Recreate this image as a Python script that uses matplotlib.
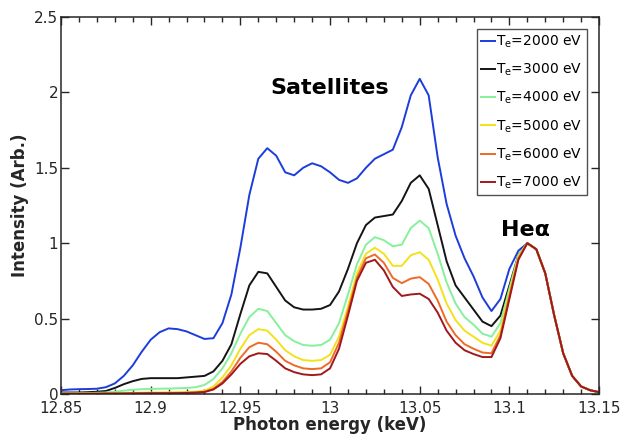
import numpy as np
import matplotlib.pyplot as plt
from matplotlib.ticker import MultipleLocator, FixedLocator

# photon energy grid (keV), read every 0.005 keV
energy = np.round(np.arange(12.85, 13.1501, 0.005), 3)

he_tail = [0.96, 0.80, 0.52, 0.27, 0.12, 0.05, 0.025, 0.012]

te2000 = [0.025, 0.03, 0.032, 0.033, 0.035, 0.045, 0.07, 0.12, 0.19, 0.28,
          0.36, 0.41, 0.435, 0.43, 0.415, 0.39, 0.365, 0.37, 0.47, 0.66,
          0.97, 1.32, 1.56, 1.63, 1.58, 1.47, 1.45, 1.50, 1.53, 1.51,
          1.47, 1.42, 1.40, 1.43, 1.50, 1.56, 1.59, 1.62, 1.77, 1.98,
          2.09, 1.98, 1.57, 1.26, 1.05, 0.90, 0.78, 0.64, 0.55, 0.63,
          0.83, 0.95, 1.00] + he_tail
te3000 = [0.01, 0.01, 0.01, 0.012, 0.015, 0.02, 0.04, 0.065, 0.085, 0.10,
          0.105, 0.105, 0.105, 0.105, 0.11, 0.115, 0.12, 0.15, 0.22, 0.33,
          0.53, 0.72, 0.81, 0.80, 0.71, 0.62, 0.575, 0.56, 0.56, 0.565,
          0.59, 0.68, 0.83, 1.00, 1.12, 1.17, 1.18, 1.19, 1.28, 1.40,
          1.45, 1.36, 1.12, 0.88, 0.72, 0.64, 0.56, 0.48, 0.45, 0.52,
          0.72, 0.92, 1.00] + he_tail
te4000 = [0.005, 0.005, 0.005, 0.006, 0.008, 0.01, 0.015, 0.022, 0.028, 0.032,
          0.034, 0.035, 0.036, 0.038, 0.04, 0.045, 0.06, 0.10, 0.17, 0.27,
          0.40, 0.51, 0.565, 0.55, 0.47, 0.39, 0.35, 0.325, 0.32, 0.325,
          0.36, 0.47, 0.66, 0.86, 0.99, 1.04, 1.02, 0.98, 0.99, 1.10,
          1.15, 1.10, 0.93, 0.74, 0.60, 0.51, 0.46, 0.40, 0.38, 0.47,
          0.70, 0.92, 1.00] + he_tail
te5000 = [0.003, 0.003, 0.003, 0.004, 0.004, 0.005, 0.006, 0.007, 0.008, 0.009,
          0.01, 0.01, 0.011, 0.012, 0.013, 0.016, 0.022, 0.05, 0.11, 0.19,
          0.30, 0.39, 0.43, 0.42, 0.36, 0.29, 0.25, 0.225, 0.22, 0.225,
          0.26, 0.38, 0.58, 0.80, 0.93, 0.97, 0.93, 0.85, 0.85, 0.92,
          0.94, 0.89, 0.76, 0.60, 0.49, 0.42, 0.38, 0.34, 0.32, 0.42,
          0.67, 0.91, 1.00] + he_tail
te6000 = [0.002, 0.002, 0.002, 0.003, 0.003, 0.003, 0.004, 0.004, 0.005, 0.005,
          0.006, 0.006, 0.007, 0.007, 0.008, 0.01, 0.015, 0.035, 0.08, 0.15,
          0.24, 0.31, 0.34, 0.33, 0.28, 0.22, 0.19, 0.17, 0.165, 0.17,
          0.21, 0.34, 0.55, 0.77, 0.90, 0.925, 0.87, 0.77, 0.735, 0.765,
          0.775, 0.73, 0.62, 0.48, 0.39, 0.33, 0.30, 0.275, 0.27, 0.39,
          0.65, 0.90, 1.00] + he_tail
te7000 = [0.002, 0.002, 0.002, 0.002, 0.002, 0.003, 0.003, 0.003, 0.004, 0.004,
          0.005, 0.005, 0.005, 0.006, 0.007, 0.009, 0.013, 0.03, 0.07, 0.13,
          0.20, 0.25, 0.27, 0.265, 0.22, 0.17, 0.145, 0.13, 0.125, 0.13,
          0.17, 0.30, 0.52, 0.75, 0.87, 0.89, 0.82, 0.71, 0.65, 0.66,
          0.665, 0.63, 0.54, 0.42, 0.34, 0.29, 0.265, 0.245, 0.245, 0.37,
          0.63, 0.89, 1.00] + he_tail

series = [te2000, te3000, te4000, te5000, te6000, te7000]
temps = [2000, 3000, 4000, 5000, 6000, 7000]
colors = ['#1c3ddc', '#141414', '#86f09c', '#f2e21c', '#ee6a26', '#a0181c']

xticks = [12.85, 12.9, 12.95, 13.0, 13.05, 13.1, 13.15]
xlabels = ['12.85', '12.9', '12.95', '13', '13.05', '13.1', '13.15']
yticks = [0, 0.5, 1.0, 1.5, 2.0, 2.5]
ylabels = ['0', '0.5', '1', '1.5', '2', '2.5']

fig = plt.figure(figsize=(6.31, 4.46), dpi=100)
ax = fig.add_axes([0.0967, 0.1166, 0.8527, 0.8453])

for y, t, c in zip(series, temps, colors):
    ax.plot(energy, y, color=c, lw=1.4, label=r'T$_\mathrm{e}$=%d eV' % t)

ax.set_xlim(12.85, 13.15)
ax.set_ylim(0, 2.5)
ax.xaxis.set_major_locator(FixedLocator(xticks))
ax.set_xticklabels(xlabels)
ax.xaxis.set_minor_locator(MultipleLocator(0.01))
ax.yaxis.set_major_locator(FixedLocator(yticks))
ax.set_yticklabels(ylabels)
ax.tick_params(which='both', direction='in', top=True, right=True,
               colors='#262626', labelsize=11, width=1.0)
ax.tick_params(which='major', length=6)
ax.tick_params(axis='x', which='major', pad=5)
ax.tick_params(axis='y', which='major', pad=2)
ax.tick_params(which='minor', length=3.5)
for s in ax.spines.values():
    s.set_color('#262626')
    s.set_linewidth(1.1)

ax.set_xlabel('Photon energy (keV)', fontsize=12, fontweight='bold', color='#262626', labelpad=0)
ax.set_ylabel('Intensity (Arb.)', fontsize=12, fontweight='bold', color='#262626', labelpad=4)

ax.text(13.0, 2.03, 'Satellites', fontsize=16, fontweight='bold', ha='center', va='center')
ax.text(13.109, 1.09, 'Heα', fontsize=16, fontweight='bold', ha='center', va='center')

leg = ax.legend(loc='upper right', fontsize=10, handlelength=1.0, handletextpad=0.1,
                borderaxespad=0.9, labelspacing=0.85, borderpad=0.3, fancybox=False)
leg.get_frame().set_edgecolor('#262626')
leg.get_frame().set_linewidth(1.0)

fig.savefig('out.png', dpi=100)
